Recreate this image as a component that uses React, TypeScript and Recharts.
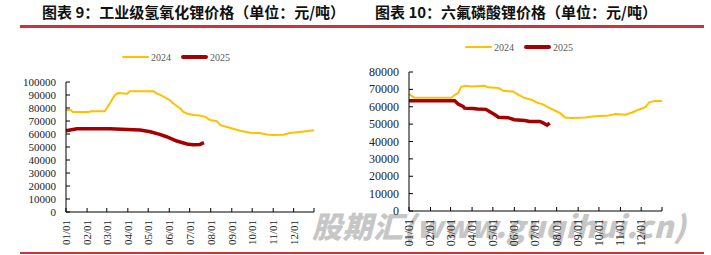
import React from 'react';
import { LineChart, Line, XAxis, YAxis } from 'recharts';

// ---------------------------------------------------------------------------
// DATA (day of year -> price, 元/吨)
// ---------------------------------------------------------------------------

const monthTicks = [0, 31, 60, 91, 121, 152, 182, 213, 244, 274, 305, 335, 365];
const monthLabels = ['01/01', '02/01', '03/01', '04/01', '05/01', '06/01', '07/01', '08/01', '09/01', '10/01', '11/01', '12/01'];

const liohTicks = [0, 10000, 20000, 30000, 40000, 50000, 60000, 70000, 80000, 90000, 100000];
const lipfTicks = [0, 10000, 20000, 30000, 40000, 50000, 60000, 70000, 80000];

// 工业级氢氧化锂
const liohDays2024 = [0, 7, 10, 33, 37, 57, 65, 72, 77, 90, 94, 129, 134, 138, 153, 158, 168, 173, 178, 187, 197, 205, 212, 222, 227, 241, 256, 271, 285, 295, 305, 320, 329, 344, 365];
const liohPrice2024 = [78500, 78500, 77000, 77000, 77500, 77500, 84000, 90000, 91500, 91000, 92800, 92800, 91000, 90300, 86000, 83400, 79600, 77000, 75800, 74700, 74200, 73200, 70700, 69900, 66800, 64800, 62500, 61000, 60700, 59700, 59200, 59400, 60700, 61500, 62800];
const liohDays2025 = [0, 16, 65, 90, 109, 124, 138, 148, 163, 178, 187, 197, 203];
const liohPrice2025 = [62500, 64000, 64000, 63500, 63000, 61700, 59700, 57900, 54600, 52300, 51800, 52000, 53300];

// 六氟磷酸锂
const lipfDays2024 = [0, 4, 8, 61, 66, 71, 75, 81, 90, 109, 114, 129, 136, 150, 158, 167, 177, 184, 194, 201, 211, 218, 225, 235, 254, 269, 288, 298, 312, 322, 331, 341, 347, 355, 365];
const lipfPrice2024 = [67300, 66300, 65200, 65200, 66900, 67900, 71300, 72100, 71700, 72100, 71200, 70800, 69200, 68800, 66900, 65000, 64000, 62500, 61200, 59600, 57700, 56300, 53800, 53500, 53800, 54600, 55000, 55800, 55400, 56700, 58300, 59800, 62700, 63300, 63300];
const lipfDays2025 = [0, 66, 71, 78, 80, 92, 99, 111, 116, 124, 129, 143, 152, 167, 174, 189, 194, 199, 203];
const lipfPrice2025 = [63500, 63500, 61500, 60200, 59200, 59000, 58700, 58500, 57300, 55400, 54000, 53700, 52500, 52100, 51500, 51500, 50600, 49400, 50600];

const COLOR_2024 = '#FFC000';
const COLOR_2025 = '#A50000';
const RULE_RED = '#D0313A';
const SERIF = '"Liberation Serif", "Times New Roman", serif';
const CJK = '"Noto Sans CJK SC", "Noto Sans", sans-serif';

const toSeries = (days: number[], prices: number[]) => days.map((d, i) => ({ day: d, price: prices[i] }));

// ---------------------------------------------------------------------------
// TICKS (Excel-style inside tick marks)
// ---------------------------------------------------------------------------

const Y_GAP = 10;
const X_GAP = 8;

const makeYTick = (fontSize: number) => (props: any) => {
  const { x, y, payload } = props;
  return (
    <g>
      <line x1={x + Y_GAP} x2={x + Y_GAP + 4} y1={y} y2={y} stroke="#000" strokeWidth={1} />
      <text x={x} y={y} dy={4} textAnchor="end" fontSize={fontSize} fontFamily={SERIF} fill="#222">
        {payload.value}
      </text>
    </g>
  );
};

const makeXTick = (fontSize: number) => (props: any) => {
  const { x, y, payload, index } = props;
  const label = monthLabels[index];
  return (
    <g>
      <line x1={x} x2={x} y1={y - X_GAP} y2={y - X_GAP - 4} stroke="#000" strokeWidth={1} />
      {label && (
        <text
          x={x}
          y={y}
          dy={4}
          textAnchor="end"
          fontSize={fontSize}
          fontFamily={SERIF}
          fill="#222"
          transform={`rotate(-90, ${x}, ${y})`}
        >
          {label}
        </text>
      )}
    </g>
  );
};

// ---------------------------------------------------------------------------
// PANEL
// ---------------------------------------------------------------------------

interface PanelProps {
  left: number;
  width: number;
  top: number;
  right: number;
  yAxisWidth: number;
  xAxisHeight: number;
  yMax: number;
  yTicks: number[];
  fontSize: number;
  s2024: { day: number; price: number }[];
  s2025: { day: number; price: number }[];
}

function Panel({ left, width, top, right, yAxisWidth, xAxisHeight, yMax, yTicks, fontSize, s2024, s2025 }: PanelProps) {
  return (
    <div style={{ position: 'absolute', left, top: 0 }}>
      <LineChart width={width} height={255} margin={{ top, right, left: 0, bottom: 0 }}>
        <XAxis
          type="number"
          dataKey="day"
          domain={[0, 365]}
          ticks={monthTicks}
          interval={0}
          height={xAxisHeight}
          axisLine={{ stroke: '#000' }}
          tickLine={false}
          tickSize={0}
          tickMargin={X_GAP}
          tick={makeXTick(fontSize)}
          allowDuplicatedCategory={false}
        />
        <YAxis
          type="number"
          domain={[0, yMax]}
          ticks={yTicks}
          interval={0}
          width={yAxisWidth}
          axisLine={{ stroke: '#000' }}
          tickLine={false}
          tickSize={0}
          tickMargin={Y_GAP}
          tick={makeYTick(fontSize)}
        />
        <Line data={s2024} dataKey="price" stroke={COLOR_2024} strokeWidth={2} dot={false} type="linear" isAnimationActive={false} />
        <Line data={s2025} dataKey="price" stroke={COLOR_2025} strokeWidth={3.5} dot={false} type="linear" isAnimationActive={false} />
      </LineChart>
    </div>
  );
}

function LegendRow({ left, top }: { left: number; top: number }) {
  const item = (color: number | string, thick: number, text: string) => (
    <div style={{ display: 'flex', alignItems: 'center', marginRight: 10 }}>
      <div style={{ width: 27, height: thick, background: color as string, borderRadius: 2 }} />
      <span style={{ marginLeft: 2, fontFamily: SERIF, fontSize: 10, color: '#595959' }}>{text}</span>
    </div>
  );
  return (
    <div style={{ position: 'absolute', left, top, display: 'flex', alignItems: 'center', height: 12 }}>
      {item(COLOR_2024, 2, '2024')}
      {item(COLOR_2025, 3.5, '2025')}
    </div>
  );
}

export default function App() {
  return (
    <div style={{ position: 'relative', width: 711, height: 255, background: '#fff', overflow: 'hidden' }}>
      <style>{'body{margin:0}'}</style>

      {/* watermark */}
      <div
        style={{
          position: 'absolute',
          left: 312,
          top: 203,
          fontFamily: CJK,
          fontWeight: 900,
          fontStyle: 'italic',
          fontSize: 30,
          color: '#c6c6c6',
          whiteSpace: 'nowrap',
          letterSpacing: 0.5,
        }}
      >
        股期汇(www.guqihui.cn)
      </div>

      {/* titles */}
      <div style={{ position: 'absolute', left: 42, top: 1, fontFamily: CJK, fontWeight: 700, fontSize: 15, color: '#111', whiteSpace: 'nowrap' }}>
        图表 9：工业级氢氧化锂价格（单位：元/吨）
      </div>
      <div style={{ position: 'absolute', left: 375, top: 1, fontFamily: CJK, fontWeight: 700, fontSize: 15, color: '#111', whiteSpace: 'nowrap' }}>
        图表 10：六氟磷酸锂价格（单位：元/吨）
      </div>
      <div style={{ position: 'absolute', left: 20, top: 25, width: 684, height: 2.5, background: RULE_RED }} />
      <div style={{ position: 'absolute', left: 20, top: 252, width: 684, height: 2, background: RULE_RED }} />

      <LegendRow left={122} top={51} />
      <LegendRow left={465} top={41} />

      <Panel
        left={0}
        width={355}
        top={82}
        right={41}
        yAxisWidth={66}
        xAxisHeight={43}
        yMax={100000}
        yTicks={liohTicks}
        fontSize={11}
        s2024={toSeries(liohDays2024, liohPrice2024)}
        s2025={toSeries(liohDays2025, liohPrice2025)}
      />
      <Panel
        left={355}
        width={356}
        top={72}
        right={49}
        yAxisWidth={54}
        xAxisHeight={44}
        yMax={80000}
        yTicks={lipfTicks}
        fontSize={12}
        s2024={toSeries(lipfDays2024, lipfPrice2024)}
        s2025={toSeries(lipfDays2025, lipfPrice2025)}
      />
    </div>
  );
}
